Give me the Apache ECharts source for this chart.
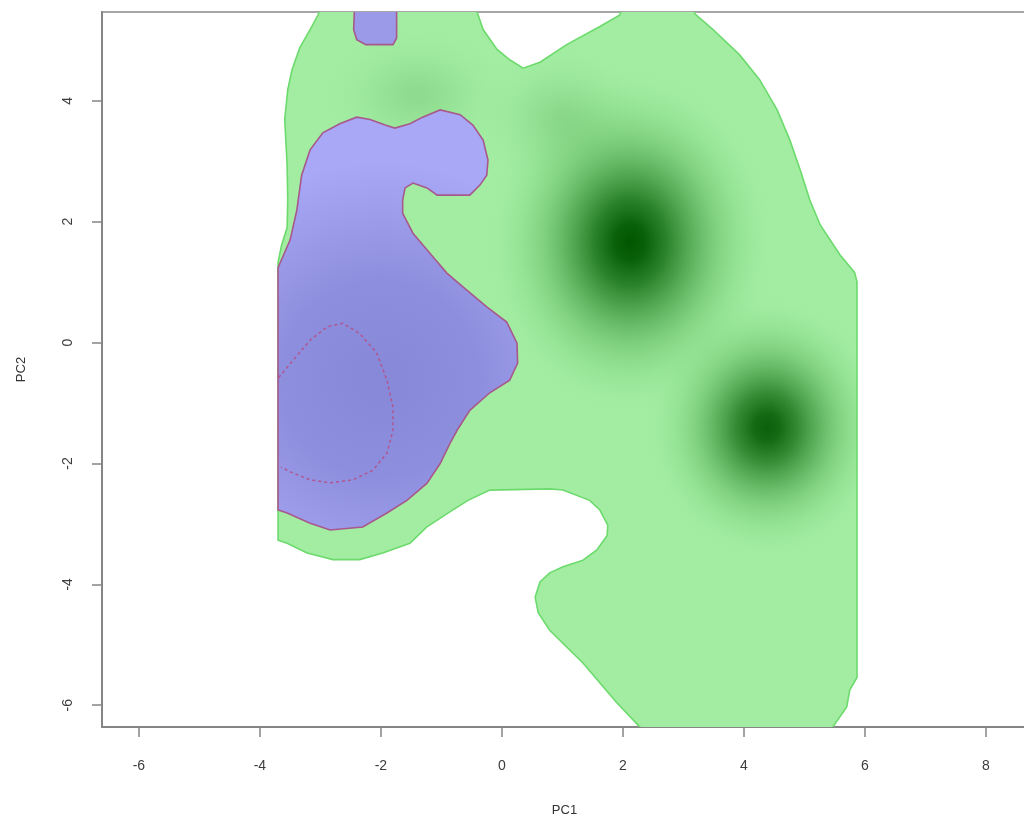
<!DOCTYPE html>
<html>
<head>
<meta charset="utf-8">
<script src="https://cdn.jsdelivr.net/npm/echarts@6/dist/echarts.min.js"></script>
<style>
html,body{margin:0;padding:0;background:#fff;}
#chart{width:1024px;height:818px;}
</style>
</head>
<body>
<div id="chart"></div>
<script>
// ---- data (PC1, PC2 coordinates) ----
var xTicks = [-6, -4, -2, 0, 2, 4, 6, 8];
var yTicks = [-6, -4, -2, 0, 2, 4];

// outer contour of the green (class 1) density region
var greenOutline = [
  [-3.70,-3.27],[-3.70,1.33],[-3.64,1.62],[-3.55,1.90],[-3.54,2.36],[-3.55,2.94],
  [-3.59,3.69],[-3.54,4.18],[-3.47,4.51],[-3.34,4.88],[-3.17,5.18],[-3.04,5.42],
  [-2.94,5.70],[-0.53,5.70],[-0.41,5.47],[-0.31,5.18],[-0.08,4.85],[0.13,4.68],
  [0.35,4.54],[0.63,4.64],[1.07,4.93],[1.62,5.23],[1.95,5.42],[2.03,5.70],
  [3.11,5.70],[3.19,5.44],[3.49,5.18],[3.93,4.76],[4.26,4.35],[4.55,3.85],
  [4.76,3.35],[4.93,2.86],[5.09,2.36],[5.26,1.95],[5.59,1.45],[5.83,1.16],
  [5.87,1.00],[5.87,-5.54],[5.75,-5.75],[5.70,-6.03],[5.47,-6.36],[5.42,-6.60],
  [2.36,-6.60],[2.28,-6.36],[1.90,-5.96],[1.34,-5.30],[0.79,-4.76],[0.60,-4.47],
  [0.55,-4.21],[0.63,-3.96],[0.79,-3.81],[1.01,-3.71],[1.34,-3.60],[1.57,-3.43],
  [1.74,-3.19],[1.75,-3.02],[1.62,-2.77],[1.45,-2.61],[1.01,-2.44],[0.79,-2.42],
  [-0.20,-2.44],[-0.56,-2.61],[-0.86,-2.80],[-1.24,-3.05],[-1.52,-3.32],[-1.97,-3.48],
  [-2.35,-3.59],[-2.79,-3.59],[-3.22,-3.48],[-3.55,-3.32]
];

// density peaks of the green class: [PC1, PC2, spreadX, spreadY, strength]
var greenPeaks = [
  [-1.40, 4.10, 1.80, 1.30, 0.12],
  [1.00, 3.70, 1.60, 1.40, 0.14],
  [2.12, 1.66, 2.50, 3.00, 1.00],
  [4.38, -1.40, 2.10, 2.30, 0.93]
];

// contour of the blue (class 2) region
var blueOutline = [
  [-3.70,-2.77],[-3.70,1.24],[-3.50,1.70],[-3.39,2.19],[-3.31,2.77],[-3.17,3.19],
  [-2.96,3.47],[-2.68,3.62],[-2.40,3.73],[-2.18,3.69],[-1.93,3.60],[-1.77,3.55],
  [-1.52,3.62],[-1.31,3.73],[-1.02,3.85],[-0.69,3.77],[-0.48,3.60],[-0.31,3.35],
  [-0.23,3.02],[-0.25,2.77],[-0.36,2.61],[-0.53,2.44],[-1.07,2.44],[-1.24,2.56],
  [-1.47,2.64],[-1.60,2.56],[-1.64,2.36],[-1.64,2.14],[-1.47,1.81],[-1.19,1.48],
  [-0.91,1.15],[-0.58,0.87],[-0.25,0.59],[0.08,0.34],[0.25,-0.01],[0.26,-0.34],
  [0.13,-0.62],[-0.20,-0.83],[-0.53,-1.12],[-0.74,-1.45],[-0.86,-1.67],[-1.02,-2.00],
  [-1.24,-2.33],[-1.57,-2.61],[-1.90,-2.82],[-2.30,-3.05],[-2.84,-3.10],[-3.17,-2.99],
  [-3.55,-2.82]
];
var blueSmall = [
  [-2.43,5.70],[-2.45,5.18],[-2.40,5.01],[-2.25,4.93],[-1.80,4.93],[-1.74,5.04],[-1.74,5.70]
];
// inner (dashed) contour of the blue class
var blueInner = [
  [-3.69,-0.58],[-3.45,-0.29],[-3.17,0.04],[-2.89,0.26],[-2.63,0.32],[-2.35,0.15],
  [-2.07,-0.17],[-1.90,-0.62],[-1.80,-1.07],[-1.80,-1.45],[-1.90,-1.83],[-2.13,-2.11],
  [-2.46,-2.27],[-2.84,-2.32],[-3.17,-2.27],[-3.45,-2.16],[-3.65,-2.06]
];
// centre of the blue density: [PC1, PC2, radius]
var blueCentre = [-2.0, -0.6, 3.6];

// ---- chart ----
var chart = echarts.init(document.getElementById('chart'), null, {renderer: 'canvas'});
var FONT = 'Liberation Sans, Arial, Helvetica, sans-serif';

function peakGradient(a) {
  return {
    type: 'radial', x: 0.5, y: 0.5, r: 0.5,
    colorStops: [
      {offset: 0.00, color: 'rgba(0,86,0,' + (a * 1.0) + ')'},
      {offset: 0.10, color: 'rgba(4,92,4,' + (a * 0.97) + ')'},
      {offset: 0.24, color: 'rgba(22,112,22,' + (a * 0.85) + ')'},
      {offset: 0.40, color: 'rgba(48,138,48,' + (a * 0.64) + ')'},
      {offset: 0.56, color: 'rgba(75,165,75,' + (a * 0.42) + ')'},
      {offset: 0.72, color: 'rgba(100,190,100,' + (a * 0.22) + ')'},
      {offset: 0.87, color: 'rgba(130,215,130,' + (a * 0.07) + ')'},
      {offset: 1.00, color: 'rgba(160,236,160,0)'}
    ]
  };
}

function renderGreen(params, api) {
  if (params.dataIndex !== 0) return null;
  var pts = greenOutline.map(function (p) { return api.coord(p); });
  var inner = [{type: 'polygon', shape: {points: pts}, style: {fill: '#a2eda2'}}];
  greenPeaks.forEach(function (pk) {
    var c = api.coord([pk[0], pk[1]]);
    var s = api.size([pk[2] * 2, pk[3] * 2]);
    inner.push({
      type: 'circle', shape: {cx: 0, cy: 0, r: 100},
      x: c[0], y: c[1], scaleX: s[0] / 200, scaleY: s[1] / 200,
      style: {fill: peakGradient(pk[4])}
    });
  });
  return {
    type: 'group',
    children: [
      {type: 'group', children: inner, clipPath: {type: 'polygon', shape: {points: pts}}},
      {type: 'polygon', shape: {points: pts}, style: {fill: 'none', stroke: '#6cda6c', lineWidth: 1.6}}
    ]
  };
}

function renderBlue(params, api) {
  if (params.dataIndex !== 0) return null;
  var pts = blueOutline.map(function (p) { return api.coord(p); });
  var pts2 = blueSmall.map(function (p) { return api.coord(p); });
  var c = api.coord([blueCentre[0], blueCentre[1]]);
  var rr = api.size([blueCentre[2], 0])[0];
  var grad = {
    type: 'radial', x: c[0], y: c[1], r: rr, global: true,
    colorStops: [
      {offset: 0, color: '#8888d8'},
      {offset: 0.45, color: '#8e8ede'},
      {offset: 1, color: '#a8a8f6'}
    ]
  };
  var dash = blueInner.map(function (p) { return api.coord(p); });
  return {
    type: 'group',
    children: [
      {type: 'polygon', shape: {points: pts}, style: {fill: grad, stroke: '#a8588c', lineWidth: 1.6}},
      {type: 'polygon', shape: {points: pts2}, style: {fill: '#9a9ae8', stroke: '#a8588c', lineWidth: 1.6}},
      {type: 'polyline', shape: {points: dash}, style: {fill: 'none', stroke: '#b0568e', lineWidth: 1.5, lineDash: [3, 3]}}
    ]
  };
}

var option = {
  animation: false,
  backgroundColor: '#ffffff',
  grid: {left: 102, right: -3, top: 12, bottom: 91, outerBoundsMode: 'none', containLabel: false, show: true, borderColor: '#a6a6a6', borderWidth: 2, backgroundColor: 'transparent'},
  xAxis: {
    type: 'value', min: -6.61, max: 8.68,
    name: 'PC1', nameLocation: 'middle', nameGap: 77,
    nameTextStyle: {fontFamily: FONT, fontSize: 13, color: '#333'},
    axisLine: {show: true, onZero: false, lineStyle: {color: '#858585', width: 2}},
    axisTick: {show: true, length: 10, customValues: xTicks, lineStyle: {color: '#858585', width: 1.5}},
    axisLabel: {customValues: xTicks, margin: 32, fontFamily: FONT, fontSize: 14, color: '#3c3c3c'},
    splitLine: {show: false}
  },
  yAxis: {
    type: 'value', min: -6.36, max: 5.47,
    name: 'PC2', nameLocation: 'middle', nameGap: 74,
    nameTextStyle: {fontFamily: FONT, fontSize: 13, color: '#333'},
    axisLine: {show: true, onZero: false, lineStyle: {color: '#858585', width: 2}},
    axisTick: {show: true, length: 10, customValues: yTicks, lineStyle: {color: '#858585', width: 1.5}},
    axisLabel: {customValues: yTicks, rotate: 90, margin: 27, fontFamily: FONT, fontSize: 14, color: '#3c3c3c'},
    splitLine: {show: false}
  },
  series: [
    {type: 'custom', name: 'group 1', clip: true, renderItem: renderGreen, data: greenOutline, encode: {x: 0, y: 1}, z: 2, silent: true},
    {type: 'custom', name: 'group 2', clip: true, renderItem: renderBlue, data: blueOutline, encode: {x: 0, y: 1}, z: 3, silent: true}
  ]
};
chart.setOption(option);
</script>
</body>
</html>
